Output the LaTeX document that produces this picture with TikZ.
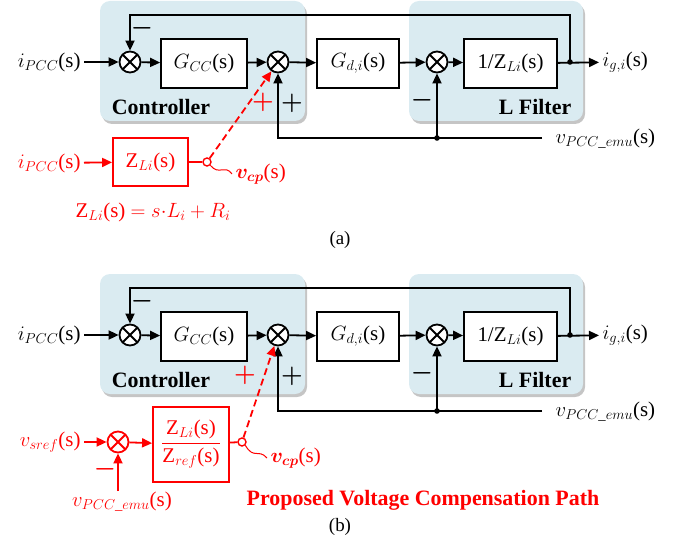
\documentclass[tikz,border=0pt]{standalone}
\usepackage{amsmath,amssymb}
\usepackage{fontspec}
\setmainfont{Liberation Serif}
\usepackage{tikz}
\usetikzlibrary{positioning,arrows.meta}
\usetikzlibrary{shadows}

\definecolor{panelblue}{RGB}{218,235,241}

\tikzset{
  every node/.style={font=\fontsize{21}{24}\selectfont},
  blk/.style={draw, line width=1.8bp, minimum height=49bp, inner sep=2pt, fill=white},
  sumnode/.style={draw, circle, line width=1.8bp, minimum size=21bp, inner sep=0pt, fill=white,
    path picture={\draw[line width=1.8bp] (path picture bounding box.south west) -- (path picture bounding box.north east)
      (path picture bounding box.north west) -- (path picture bounding box.south east);}},
  tap/.style={draw=red, circle, line width=1.4bp, minimum size=8bp, inner sep=0pt},
  sig/.style={line width=1.8bp, -{Triangle[length=10bp,width=9bp]}},
  wire/.style={line width=1.8bp},
  cpline/.style={sig, red, dash pattern=on 7bp off 4bp},
  panel/.style={fill=panelblue, rounded corners=10bp,
    drop shadow={shadow xshift=2bp, shadow yshift=-3bp, fill=black!45, opacity=0.5}},
  sign/.style={font=\fontsize{24}{26}\selectfont\bfseries},
  title/.style={font=\fontsize{22}{26}\selectfont\bfseries},
}

\begin{document}
\begin{tikzpicture}[x=1bp,y=-1bp]
  \useasboundingbox (0,0) rectangle (694,546);

  % the two loops, (a) and (b)
  \foreach \p/\dy in {a/0,b/273} {
    \begin{scope}[yshift=-\dy bp]
      \fill[panel] (100,1) rectangle (305,121);
      \fill[panel] (409,1) rectangle (583,121);
      \node[title] (ctrl\p) at (161,107) {Controller};
      \node[title] (filt\p) at (535,107) {L Filter};

      \node[anchor=east] (in\p) at (84,62) {$i_{PCC}$(s)};
      \node[sumnode] (sum1\p) at (130,62) {};
      \node[blk, minimum width=86bp] (gcc\p) at (204,63.5) {$G_{CC}$(s)};
      \node[sumnode] (sum2\p) at (278,62) {};
      \node[blk, minimum width=82bp] (gd\p) at (358,63.5) {$G_{d,i}$(s)};
      \node[sumnode] (sum3\p) at (437,62) {};
      \node[blk, minimum width=93bp] (zf\p) at (510.5,63.5) {1/Z$_{Li}$(s)};
      \node[anchor=west] (out\p) at (599,62) {$i_{g,i}$(s)};
      \node[anchor=west] (vp\p) at (552,139) {$v_{PCC\_emu}$(s)};

      \coordinate (jo\p) at (570,62);
      \coordinate (fb\p) at (570,15);
      \coordinate (vend\p) at (542,138);
      \coordinate (jv\p) at (437,138);

      \draw[sig] (in\p) -- (sum1\p);
      \draw[sig] (sum1\p) -- (gcc\p);
      \draw[sig] (gcc\p) -- (sum2\p);
      \draw[sig] (sum2\p) -- (gd\p);
      \draw[sig] (gd\p) -- (sum3\p);
      \draw[sig] (sum3\p) -- (zf\p);
      \draw[sig] (zf\p) -- (out\p);
      \draw[sig] (jo\p) -- (fb\p) -| (sum1\p);
      \draw[sig] (vend\p) -| (sum2\p);
      \draw[sig] (jv\p) -- (sum3\p);
      \fill (jo\p) circle (2.8bp);
      \fill (jv\p) circle (2.8bp);

      \node[sign] (m1\p) at (142,28) {$\boldsymbol{-}$};
      \node[sign] (m3\p) at (422,100) {$\boldsymbol{-}$};
      \node[sign] (p2\p) at (292,103) {$\boldsymbol{+}$};
    \end{scope}
  }

  % (a) compensation
  \node[red, anchor=east] (inr) at (84,163) {$i_{PCC}$(s)};
  \node[blk, red, fill=white, minimum width=75bp, minimum height=48bp] (zli) at (150.5,162) {Z$_{Li}$(s)};
  \node[tap] (cpa) at (207,162) {};
  \node[red, anchor=west] (vcpa) at (232,174) {$\boldsymbol{v_{cp}}$(s)};
  \draw[sig, red] (inr) -- (zli);
  \draw[wire, red] (zli) -- (cpa);
  \draw[cpline] (cpa) -- (sum2a);
  \draw[red, line width=1bp] (cpa.south east) .. controls (219,176) and (225,164) .. (vcpa.west);
  \node[sign, red] (p2r) at (263,102) {$\boldsymbol{+}$};
  \node[red] (zlf) at (153,212) {Z$_{Li}$(s) $= s{\cdot}L_i + R_i$};
  \node[font=\fontsize{19}{22}\selectfont] (capa) at (340,240) {(a)};

  % (b) compensation
  \node[red, anchor=east] (vsr) at (84,442) {$v_{sref}$(s)};
  \node[sumnode, red, fill=white] (sumr) at (118,442) {};
  \node[blk, red, fill=white, minimum width=76bp, minimum height=75bp] (zfr) at (191,444.5)
    {$\dfrac{\text{Z}_{Li}\text{(s)}}{\text{Z}_{ref}\text{(s)}}$};
  \node[tap] (cpb) at (242,442) {};
  \node[red, anchor=west] (vcpb) at (267,458) {$\boldsymbol{v_{cp}}$(s)};
  \node[red, inner sep=1bp] (vpr) at (122,502) {$v_{PCC\_emu}$(s)};
  \draw[sig, red] (vsr) -- (sumr);
  \draw[sig, red] (sumr) -- (zfr);
  \draw[wire, red] (zfr) -- (cpb);
  \draw[cpline] (cpb) -- (sum2b);
  \draw[red, line width=1bp] (cpb.south east) .. controls (254,460) and (258,448) .. (vcpb.west);
  \draw[sig, red] (vpr.north -| sumr) -- (sumr);
  \node[sign, red] (mr) at (105,469) {$\boldsymbol{-}$};
  \node[sign, red] (p2rb) at (245,375) {$\boldsymbol{+}$};
  \node[title, red] (prop) at (423,500) {Proposed Voltage Compensation Path};
  \node[font=\fontsize{19}{22}\selectfont] (capb) at (340,527) {(b)};
\end{tikzpicture}
\end{document}
